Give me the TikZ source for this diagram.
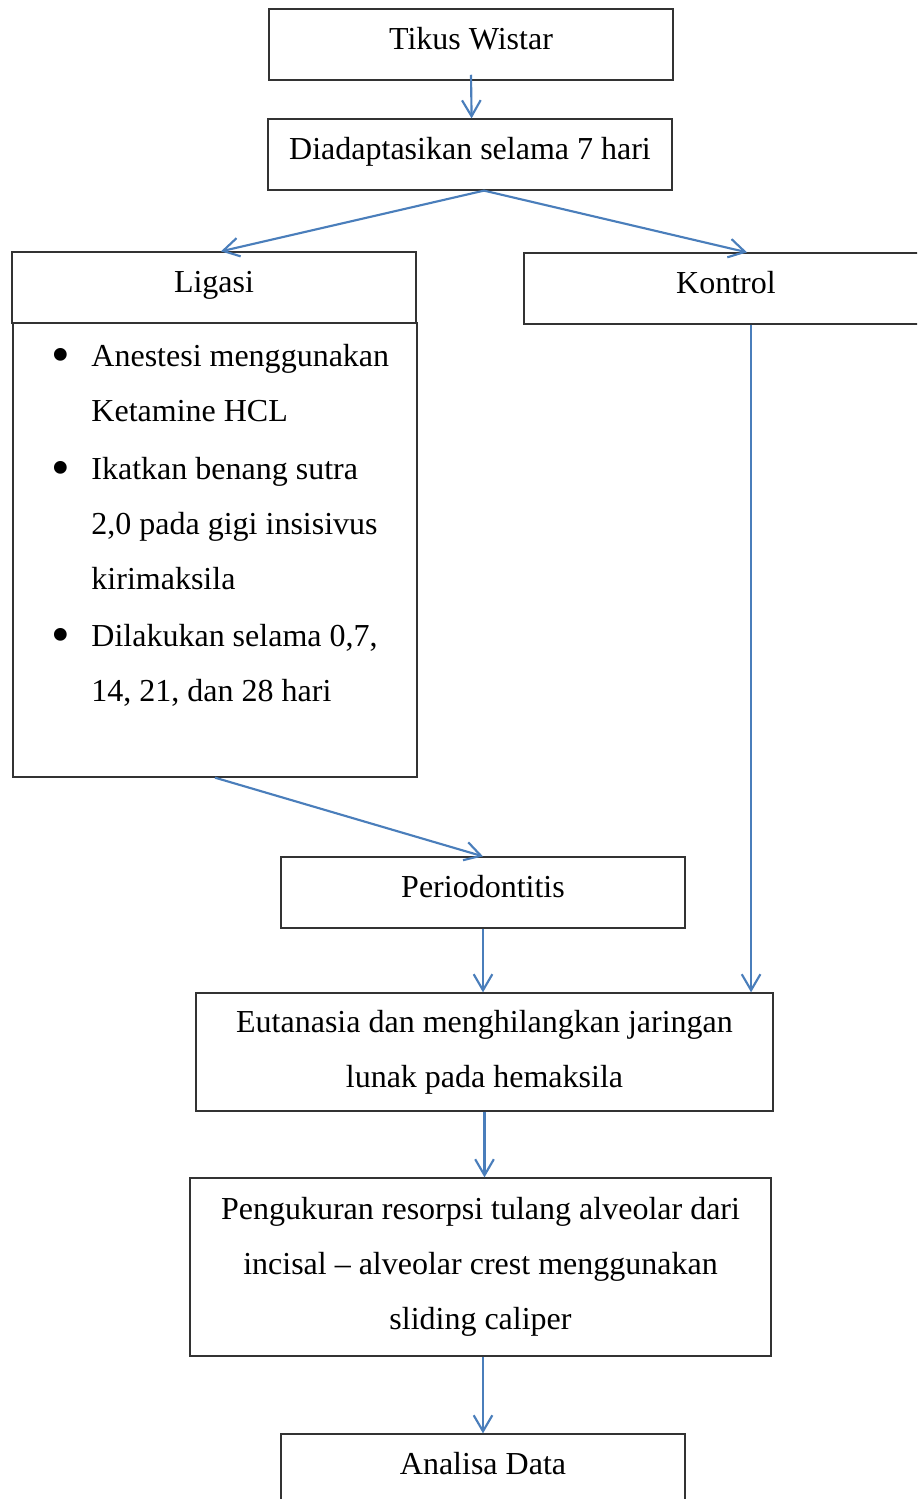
\documentclass[tikz,border=0pt]{standalone}
\usepackage{fontspec}
\setmainfont{Liberation Serif}
\usepackage{tikz}
\usetikzlibrary{arrows.meta,calc}
\definecolor{flowblue}{HTML}{4A7EBB}
\definecolor{boxline}{HTML}{333333}
\newcommand{\bul}{\hspace*{2.1pt}\makebox[0pt]{\raisebox{-2.2pt}{\fontsize{20}{20}\selectfont •}}}

\tikzset{
  box/.style={draw=boxline,line width=0.5pt,inner sep=0pt,minimum width=151.5pt,minimum height=26.6pt,text height=8.5pt,text depth=4.75pt},
  tallbox/.style={draw=boxline,line width=0.5pt,inner sep=0pt,align=center},
  flow/.style={draw=flowblue,line width=0.8pt,-{Straight Barb[length=6pt,width=7pt]}}
}

\begin{document}
\begin{tikzpicture}[x=0.375pt,y=-0.375pt,font=\fontsize{12}{20.6}\selectfont]
  \useasboundingbox (0,0) rectangle (917,1499);
  \clip (0,0) rectangle (917,1499);
  \node[box] (tikus) at (471,44.5) {Tikus Wistar};
  \node[box] (adapt) at (470,154.5) {Diadaptasikan selama 7 hari};
  \node[box] (ligasi) at (214,287.5) {Ligasi};
  \node[box] (kontrol) at (726,288.5) {Kontrol};
  \node[tallbox,minimum width=151.5pt,minimum height=170.25pt] (liglist) at (215,550) {};
  % bullet list, first baseline fixed
  \node[anchor=base west,inner sep=0pt] (liglist-t) at (54.4,366.5) {%
    \begin{tabular}[t]{@{}p{13.7pt}@{}l@{}}
      \bul&Anestesi menggunakan\\
          &Ketamine HCL\\[1.1pt]
      \bul&Ikatkan benang sutra\\
          &2,0 pada gigi insisivus\\
          &kirimaksila\\[0.8pt]
      \bul&Dilakukan selama 0,7,\\
          &14, 21, dan 28 hari
    \end{tabular}};
  \node[box] (perio) at (483,892.5) {Periodontitis};
  \node[tallbox,minimum width=216.4pt,minimum height=44.25pt] (eutan) at (484.5,1052) {Eutanasia dan menghilangkan jaringan\\lunak pada hemaksila};
  \node[tallbox,minimum width=217.9pt,minimum height=66.75pt] (ukur) at (480.5,1267) {Pengukuran resorpsi tulang alveolar dari\\incisal – alveolar crest menggunakan\\sliding caliper};
  \node[box] (analisa) at (483,1469.5) {Analisa Data};

  \draw[flow] ([yshift=2.2pt]tikus.south) -- ([xshift=0.6pt]adapt.north);
  \draw[flow] ([xshift=5.25pt]adapt.south) -- ([xshift=2.6pt]ligasi.north);
  \draw[flow] ([xshift=5.25pt]adapt.south) -- ([xshift=7.9pt]kontrol.north);
  \draw[flow] ([xshift=9.4pt]kontrol.south) -- ([xshift=9.4pt]kontrol.south |- eutan.north);
  \draw[flow] (liglist.south) -- (perio.north);
  \draw[flow] (perio.south) -- (perio.south |- eutan.north);
  \draw[flow] (eutan.south) -- (eutan.south |- ukur.north);
  \draw[flow] (analisa.north |- ukur.south) -- (analisa.north);
\end{tikzpicture}
\end{document}
